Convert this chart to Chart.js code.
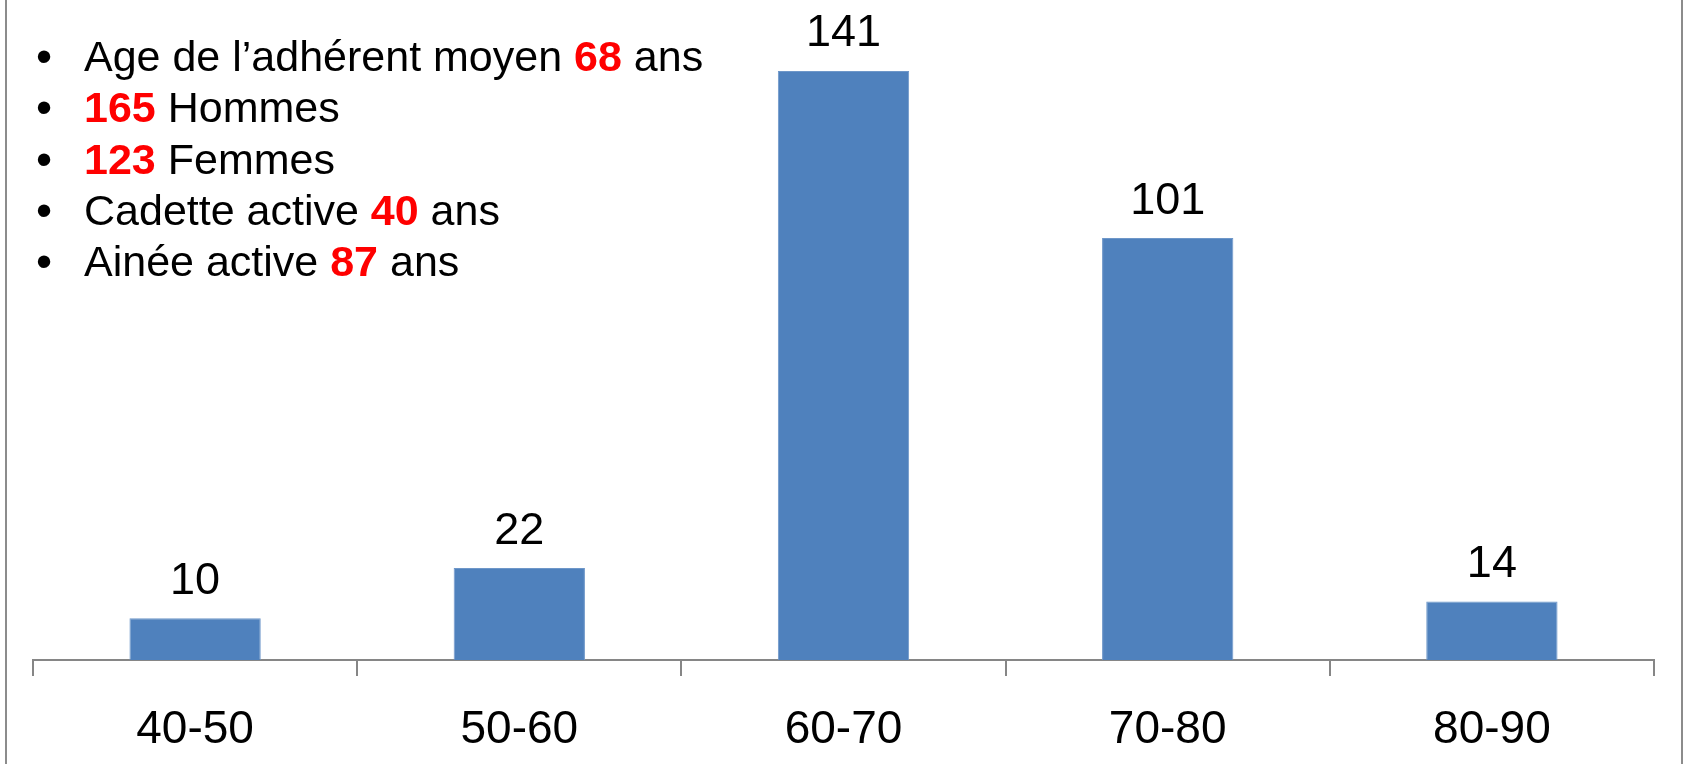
<!DOCTYPE html>
<html>
<head>
<meta charset="utf-8">
<script src="https://cdn.jsdelivr.net/npm/chart.js@4.4.1/dist/chart.umd.min.js"></script>
<style>
  html, body { margin: 0; padding: 0; background: #fff; }
  #wrap { position: relative; width: 1685px; height: 764px; overflow: hidden; }
  #frame { position: absolute; left: 5px; top: 0; width: 1674px; height: 764px;
           border-left: 2px solid #8c8c8c; border-right: 2px solid #8c8c8c; }
  #chart { position: absolute; left: 0; top: 0; }
  #notes { position: absolute; left: 0; top: 31px; margin: 0; padding: 0; list-style: none;
           font-family: "Liberation Sans", Arial, sans-serif; font-size: 43px; line-height: 51.3px; color: #000; }
  #notes li { position: relative; padding-left: 84px; white-space: nowrap; }
  #notes .dot { position: absolute; left: 36px; top: 0; font-size: 46px; }
  #notes b { color: #ff0000; }
</style>
</head>
<body>
<div id="wrap">
  <canvas id="chart" width="1685" height="764"></canvas>
  <div id="frame"></div>
  <ul id="notes"></ul>
</div>
<script>
// Age brackets and number of members in each
const categories = ['40-50', '50-60', '60-70', '70-80', '80-90']
const counts = [10, 22, 141, 101, 14]
const yMax = 158

// Bullet notes: text before, highlighted number, text after
const noteBefore = ['Age de l\u2019adh\u00e9rent moyen ', '', '', 'Cadette active ', 'Ain\u00e9e active ']
const noteNumber = ['68', '165', '123', '40', '87']
const noteAfter = [' ans', ' Hommes', ' Femmes', ' ans', ' ans']

const list = document.getElementById('notes')
noteNumber.forEach((num, i) => {
  const li = document.createElement('li')
  const dot = document.createElement('span')
  dot.className = 'dot'
  dot.textContent = '\u2022'
  li.appendChild(dot)
  li.appendChild(document.createTextNode(noteBefore[i]))
  const b = document.createElement('b')
  b.textContent = num
  li.appendChild(b)
  li.appendChild(document.createTextNode(noteAfter[i]))
  list.appendChild(li)
})

// Value labels above each bar (no datalabels plugin available)
const valueLabels = {
  id: 'valueLabels',
  afterDatasetsDraw(chart) {
    const ctx = chart.ctx
    const meta = chart.getDatasetMeta(0)
    ctx.save()
    ctx.font = '45px "Liberation Sans", Arial, sans-serif'
    ctx.fillStyle = '#000'
    ctx.textAlign = 'center'
    ctx.textBaseline = 'middle'
    meta.data.forEach((bar, i) => {
      ctx.fillText(String(counts[i]), bar.x, bar.y - 37)
    })
    ctx.restore()
  }
}

const gray = '#868686'

new Chart(document.getElementById('chart').getContext('2d'), {
  type: 'bar',
  data: {
    labels: categories,
    datasets: [{
      data: counts,
      backgroundColor: '#4f81bd',
      borderColor: '#6e97c9',
      borderWidth: 1,
      categoryPercentage: 1,
      barPercentage: 0.405
    }]
  },
  options: {
    responsive: false,
    animation: false,
    devicePixelRatio: 1,
    layout: { padding: { left: 33, right: 31, top: 0, bottom: 0 } },
    plugins: { legend: { display: false }, tooltip: { enabled: false } },
    scales: {
      x: {
        afterFit: (scale) => { scale.height = 104 },
        grid: { offset: true, drawOnChartArea: false, drawTicks: true, tickLength: 16, color: gray, lineWidth: 2 },
        border: { display: true, color: gray, width: 2 },
        ticks: {
          padding: 27,
          color: '#000',
          font: { family: '"Liberation Sans", Arial, sans-serif', size: 46 }
        }
      },
      y: {
        display: false,
        min: 0,
        max: yMax
      }
    }
  },
  plugins: [valueLabels]
})
</script>
</body>
</html>
